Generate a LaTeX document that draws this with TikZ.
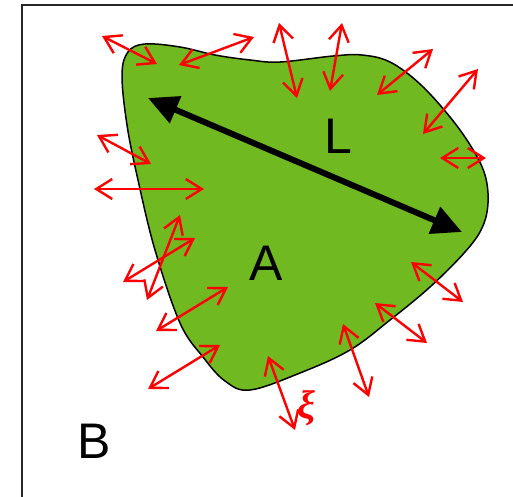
\documentclass[tikz,border=0pt]{standalone}
\usepackage{fontspec}
\setmainfont{Liberation Sans}
\newfontfamily\xifont{Liberation Serif}
\usetikzlibrary{arrows.meta}
\definecolor{blobgreen}{RGB}{112,185,32}
\definecolor{framegray}{RGB}{40,40,40}

\tikzset{
    flux/.style={draw=red, line width=2.4pt,
        {Straight Barb[length=16pt,width=20pt]}-{Straight Barb[length=16pt,width=20pt]}},
    span/.style={line width=6pt,
        {Triangle[length=30pt,width=28pt]}-{Triangle[length=30pt,width=28pt]}},
    letter/.style={inner sep=0pt, font=\fontsize{50}{50}\selectfont}
}

\begin{document}
\begin{tikzpicture}[x=1pt, y=-1pt]

        \useasboundingbox (0,0) rectangle (513,496);
        \draw[framegray, line width=2pt] (22,5) rectangle (530,520);

        % body A
        \draw[fill=blobgreen, line width=1.5pt] plot[smooth cycle, tension=0.6] coordinates {
            (122,75) (128,52) (145,44) (180,47) (215,55) (250,60) (280,62)
            (333,56) (362,55) (390,62) (420,84) (450,117) (472,148)
            (485,175) (488,203) (482,228) (465,252) (430,287) (390,320)
            (350,350) (300,373) (250,390) (225,381) (203,357) (180,323)
            (155,250) (138,180) (127,125)};

        % length scale L
        \coordinate (endA) at (148,98);
        \coordinate (endB) at (462,232);
        \draw[span] (endA) -- (endB);

        % fluctuations on the border
        \foreach \xa/\ya/\xb/\yb in {
            102/36/157/64, 179/65/254/37, 97/135/151/164, 94/189/204/189,
            279/23/297/98, 342/23/330/91, 377/95/433/49, 423/134/478/69,
            440/158/486/158, 180/215/147/300, 195/238/123/282,
            228/287/156/331, 220/345/148/389, 411/262/463/302,
            375/303/427/343, 343/324/369/397, 268/356/295/430} {
            \draw[flux] (\xa,\ya) -- (\xb,\yb);
        }

        \node[letter] (lblL) at (338,136) {L};
        \node[letter] (lblA) at (266,263) {A};
        \node[letter] (lblB) at (94,441) {B};
        \node[inner sep=0pt, red, font=\xifont\bfseries\itshape\fontsize{40}{40}\selectfont] (lblxi) at (306,408) {ξ};

\end{tikzpicture}
\end{document}
